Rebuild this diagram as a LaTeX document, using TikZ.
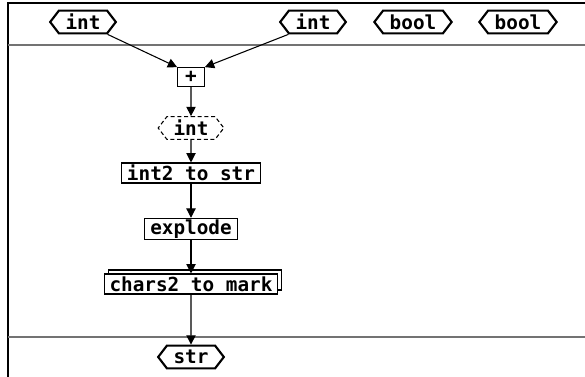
\documentclass[tikz,border=0pt]{standalone}
\usepackage{fontspec}
\newfontfamily\codefont{DejaVu Sans Mono}
\usetikzlibrary{arrows.meta,shapes.symbols,shadows}
\tikzset{
  >={Triangle[length=7pt,width=7pt]},
  % typer
  tm/.style={signal,signal to=east and west,signal pointer angle=105,
             draw=black,line width=1.6pt,fill=white,inner xsep=5pt,inner ysep=1pt,
             minimum height=17pt,font=\codefont\bfseries\fontsize{14.5pt}{15pt}\selectfont},
  tmd/.style={tm,line width=0.8pt,dash pattern=on 3pt off 2pt},
  % funktioner
  op/.style={draw=black,line width=0.8pt,fill=white,inner xsep=4pt,inner ysep=1pt,
             minimum height=15pt,font=\codefont\bfseries\fontsize{14.5pt}{15pt}\selectfont},
  opm/.style={op,copy shadow={shadow xshift=3pt,shadow yshift=3pt}},
  fe/.style={->,draw=black,line width=0.8pt},
  frame/.style={draw=black,line width=0.8pt},
  sep/.style={draw=black!55,line width=1.5pt},
}
\begin{document}
\begin{tikzpicture}[x=0.75pt,y=-0.75pt]
\useasboundingbox (0,0) rectangle (585,377);
  \draw[frame] (585,3) -- (8,3) -- (8,377);
  \draw[sep] (8,45) -- (585,45);
  \draw[sep] (8,337) -- (585,337);
  \node[tm] (in1) at (83,22) {int};
  \node[tm] (in2) at (313,22) {int};
  \node[tm] (inb1) at (413,22) {bool};
  \node[tm] (inb2) at (518,22) {bool};
  \node[op,minimum width=20pt,minimum height=14pt] (plus) at (191,77) {+};
  \node[tmd] (mid) at (191,128) {int};
  \node[op] (tostr) at (191,173) {int2 to str};
  \node[op] (expl) at (191,229) {explode};
  \node[opm] (mark) at (191,284) {chars2 to mark};
  \node[tm] (out) at (191,357) {str};
  \draw[fe] (in1.south east) -- (plus.north west);
  \draw[fe] (in2.south west) -- (plus.north east);
  \draw[fe] (plus) -- (mid);
  \draw[fe] (mid) -- (tostr);
  \draw[fe] (tostr) -- (expl);
  \draw[fe] (expl) -- (mark);
  \draw[fe] (mark) -- (out);
\end{tikzpicture}
\end{document}
